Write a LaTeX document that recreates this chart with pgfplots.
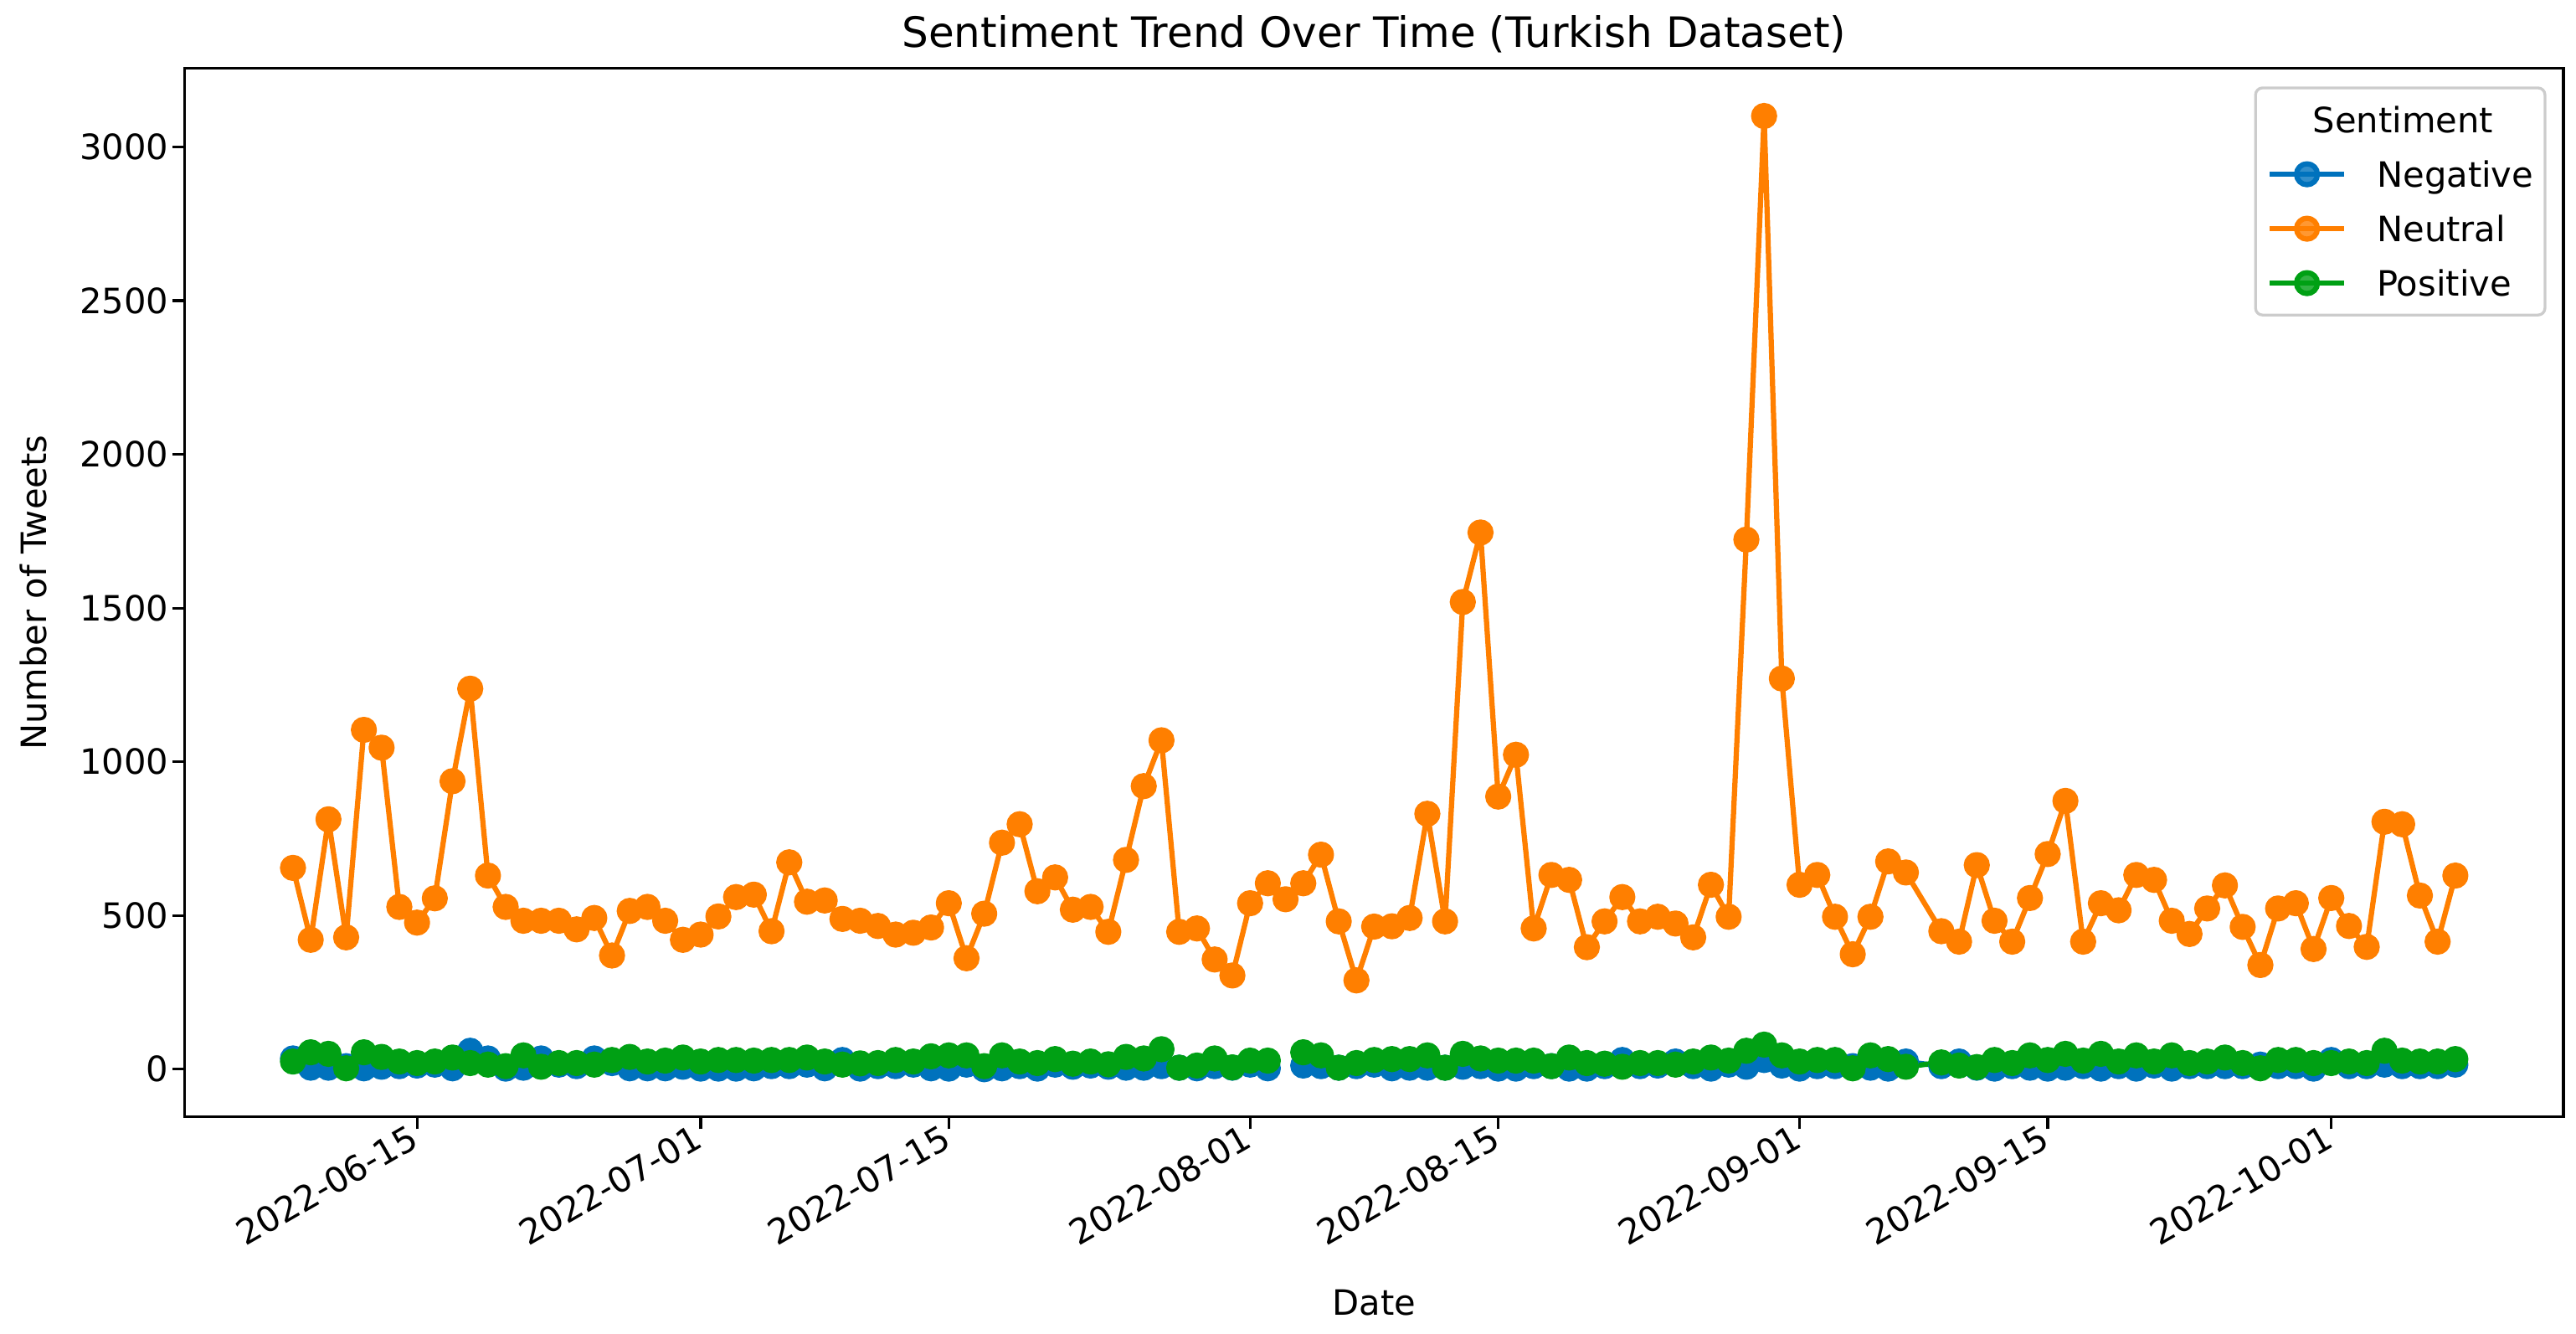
\documentclass[border=0pt]{standalone}
\usepackage{fontspec}
\setmainfont{DejaVu Sans}
\usepackage{pgfplots}
\usepackage{pgfplotstable}
\pgfplotsset{compat=1.18}
\definecolor{cneg}{RGB}{0,114,189}
\definecolor{cneu}{RGB}{255,127,0}
\definecolor{cpos}{RGB}{0,160,20}
% d = days since 2022-06-01 (2022-09-08 absent; 2022-08-03 missing for negative/positive)
\pgfplotstableread{
d neg neu pos
7 35 655 25
8 5 421 55
9 5 813 50
10 10 429 3
11 3 1104 55
12 8 1046 40
13 10 528 25
14 12 477 20
15 15 556 25
16 3 937 38
17 60 1238 20
18 35 630 15
19 2 528 10
20 5 483 45
21 35 483 8
22 15 483 20
23 10 455 20
24 35 492 15
25 20 370 30
26 3 515 40
27 3 528 25
28 3 483 28
29 8 421 38
30 2 438 25
31 2 497 30
32 2 560 30
33 3 568 28
34 10 449 30
35 10 673 30
36 15 545 38
37 3 549 25
38 30 489 15
39 2 483 19
40 10 466 20
41 10 438 30
42 15 444 25
43 3 461 42
44 2 540 45
45 15 361 45
46 0 506 10
47 3 737 45
48 10 797 25
49 2 579 20
50 15 624 33
51 8 519 18
52 12 528 25
53 8 447 16
54 5 681 40
55 5 921 35
56 10 1070 65
57 5 447 5
58 3 458 12
59 10 357 35
60 5 305 6
61 15 540 28
62 3 605 28
63 nan 553 nan
64 12 605 55
65 10 698 45
66 5 481 5
67 10 289 20
68 15 464 30
69 3 465 33
70 5 492 33
71 5 831 45
72 5 481 5
73 8 1520 50
74 10 1746 35
75 2 887 28
76 2 1023 28
77 10 458 28
78 10 632 10
79 2 616 38
80 2 397 20
81 10 481 18
82 30 560 8
83 10 481 20
84 12 496 20
85 25 474 15
86 10 429 25
87 2 600 38
88 15 496 28
89 8 1723 60
90 30 3101 80
91 12 1271 45
92 2 600 25
93 10 632 30
94 10 496 30
95 10 374 3
96 5 496 45
97 2 676 33
98 25 640 8
100 10 449 22
101 25 415 12
102 5 664 7
103 2 483 30
104 10 415 20
105 5 557 45
106 2 700 30
107 5 873 50
108 10 415 28
109 2 540 50
110 10 517 25
111 2 632 45
112 12 616 25
113 2 483 45
114 10 440 20
115 10 523 25
116 10 598 38
117 10 463 20
118 15 339 3
119 10 523 30
120 10 540 30
121 2 391 20
122 30 557 20
123 10 466 25
124 10 398 20
125 15 805 60
126 10 797 28
127 10 565 25
128 10 415 25
129 15 630 33
}\data
\begin{document}
\begin{tikzpicture}
\useasboundingbox (-53.0pt,-62.2pt) rectangle (685.5pt,320.1pt);
\begin{axis}[
  at={(0,0)}, anchor=south west,
  scale only axis, width=681.9pt, height=300.5pt,
  xmin=0.9, xmax=135.1, ymin=-155, ymax=3256,
  xtick={14,30,44,61,75,92,106,122},
  xticklabels={2022-06-15,2022-07-01,2022-07-15,2022-08-01,2022-08-15,2022-09-01,2022-09-15,2022-10-01},
  ytick={0,500,1000,1500,2000,2500,3000},
  scaled y ticks=false,
  /pgf/number format/assume math mode=true,
  /pgf/number format/1000 sep={},
  tick align=outside, major tick length=3.5pt,
  tick style={line width=0.8pt, black},
  xtick pos=bottom, ytick pos=left,
  axis line style={line width=0.8pt},
  ticklabel style={font=\fontsize{10}{12}\selectfont},
  xticklabel style={xshift=-2.5pt, yshift=2pt, rotate=30, anchor=north east, inner sep=0pt},
  yticklabel style={xshift=-1pt, anchor=east, inner sep=0pt},
  title={Sentiment Trend Over Time (Turkish Dataset)},
  title style={at={(0.5,1)}, anchor=base, font=\fontsize{12}{14}\selectfont},
  xlabel={Date},
  xlabel style={at={(axis description cs:0.5,-0.1774)}, anchor=center, font=\fontsize{10}{12}\selectfont},
  ylabel={Number of Tweets},
  ylabel style={at={(axis description cs:-0.0636,0.5)}, anchor=center, rotate=0, font=\fontsize{10}{12}\selectfont},
  unbounded coords=jump,
  legend cell align=left,
  legend style={at={(1,1)}, anchor=north east, xshift=-4.9pt, yshift=-5.2pt,
    draw=black!20, line width=0.8pt, rounded corners=2pt, fill=white, fill opacity=0.8, text opacity=1,
    inner xsep=3.3pt, inner ysep=5.5pt, row sep=8.3pt,
    font=\fontsize{10}{12}\selectfont,
    nodes={inner sep=0pt, text height=7.3pt, text depth=0pt},
    /tikz/every odd column/.append style={column sep=8.6pt}},
  legend image code/.code={\draw[mark repeat=2,mark phase=2] plot coordinates {(0pt,0pt) (10.7pt,0pt) (21.4pt,0pt)};},
  every axis plot/.append style={line width=1.5pt, line join=round, mark=*, mark size=3pt, mark options={solid, line width=0.5pt}},
]
\addlegendimage{empty legend}
\addlegendentry[text depth=-4pt]{\hspace*{-18.35pt}Sentiment}
\addplot[color=cneg, mark options={fill=cneg, draw=cneg}] table[x=d, y=neg] {\data};
\addlegendentry{Negative}
\addplot[color=cneu, mark options={fill=cneu, draw=cneu}] table[x=d, y=neu] {\data};
\addlegendentry{Neutral}
\addplot[color=cpos, mark options={fill=cpos, draw=cpos}] table[x=d, y=pos] {\data};
\addlegendentry{Positive}
\end{axis}
\end{tikzpicture}
\end{document}
